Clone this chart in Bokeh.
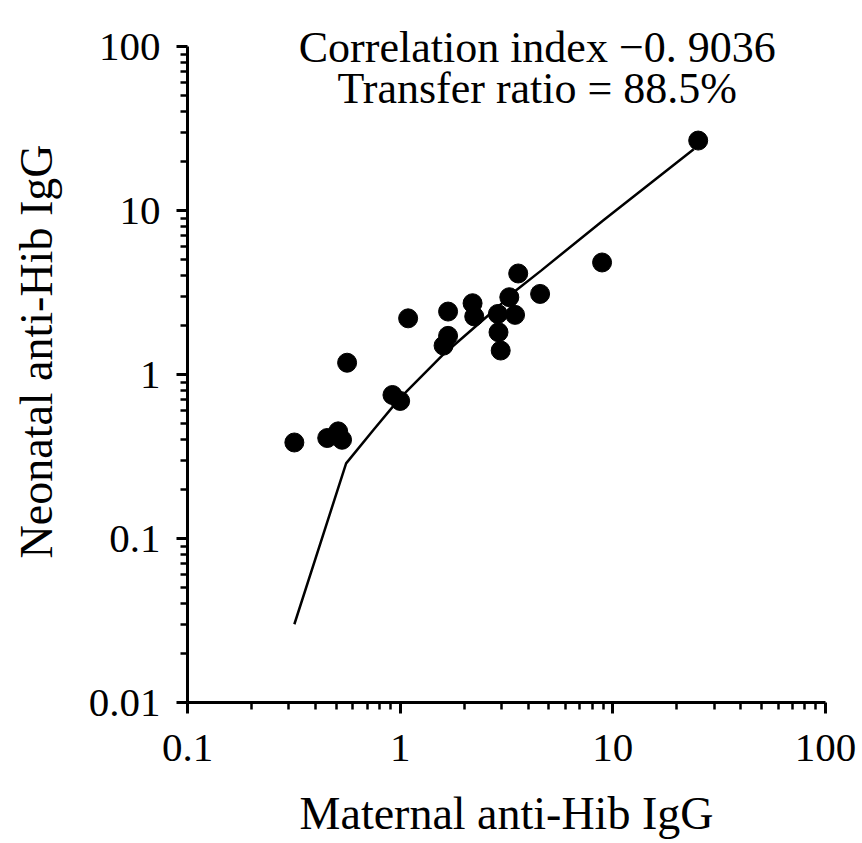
from bokeh.plotting import figure
from bokeh.models import FixedTicker, CustomJSTickFormatter, ColumnDataSource, Range1d
from bokeh.core.properties import value
from bokeh.embed import file_html
from bokeh.resources import INLINE

# Data
maternal = [0.318, 0.454, 0.511, 0.533, 0.563, 0.92, 1.0, 1.09, 1.6, 1.68, 1.68,
            2.19, 2.23, 2.88, 2.9, 2.97, 3.26, 3.47, 3.59, 4.55, 8.9, 25.2]
neonatal = [0.385, 0.41, 0.45, 0.40, 1.18, 0.75, 0.69, 2.2, 1.5, 1.72, 2.42,
            2.72, 2.26, 2.34, 1.81, 1.4, 2.96, 2.31, 4.13, 3.1, 4.82, 26.7]

fit_x = [0.318, 0.557, 0.75, 1.0, 1.6, 2.9, 3.5, 4.6, 9.0, 24.0]
fit_y = [0.030, 0.287, 0.46, 0.72, 1.33, 2.6, 3.25, 4.3, 8.7, 23.6]

x_ticks = [0.1, 1, 10, 100]
y_ticks = [0.01, 0.1, 1, 10, 100]
x_minor = [m * d for d in (0.1, 1, 10) for m in range(2, 10)]
y_minor = [m * d for d in (0.01, 0.1, 1, 10) for m in range(2, 10)]

annotation_lines = ["Correlation index \u22120. 9036", "Transfer ratio = 88.5%"]

FONT = "Liberation Serif"

p = figure(width=862, height=843, x_axis_type="log", y_axis_type="log",
           x_range=Range1d(0.1, 100), y_range=Range1d(0.01, 10 ** (2 + 46 / 164)),
           output_backend="svg", toolbar_location=None,
           min_border_left=187, min_border_right=37,
           min_border_top=0, min_border_bottom=141)

p.outline_line_color = None
p.grid.visible = False
p.background_fill_color = "white"
p.border_fill_color = "white"

fmt = CustomJSTickFormatter(code="return tick.toString();")
p.xaxis.ticker = FixedTicker(ticks=x_ticks, minor_ticks=x_minor)
p.yaxis.ticker = FixedTicker(ticks=y_ticks, minor_ticks=y_minor)
p.yaxis.bounds = (0.01, 100)
for ax in (p.xaxis, p.yaxis):
    ax.formatter = fmt
    ax.axis_line_width = 3
    ax.axis_line_color = "black"
    ax.major_tick_line_width = 3
    ax.minor_tick_line_width = 2.5
    ax.major_tick_out = 11
    ax.major_tick_in = 0
    ax.minor_tick_out = 7
    ax.minor_tick_in = 0
    ax.major_label_text_font = FONT
    ax.major_label_text_font_size = "41px"
    ax.major_label_text_color = "black"
    ax.axis_label_text_font = FONT
    ax.axis_label_text_font_size = "46px"
    ax.axis_label_text_font_style = "normal"
    ax.axis_label_text_color = "black"

p.xaxis.axis_label = "Maternal anti-Hib IgG"
p.yaxis.axis_label = "Neonatal anti-Hib IgG"
p.xaxis.major_label_standoff = 21
p.yaxis.major_label_standoff = 16
p.xaxis.axis_label_standoff = 24
p.yaxis.axis_label_standoff = 24

src = ColumnDataSource(dict(x=maternal, y=neonatal))
p.line(fit_x, fit_y, line_color="black", line_width=2.5)
p.scatter("x", "y", source=src, size=19, fill_color="black", line_color="black")

ann = ColumnDataSource(dict(x=[4.41, 4.41], y=[98.6, 55.4], t=annotation_lines))
p.text("x", "y", text="t", source=ann, text_align="center", text_baseline="alphabetic",
       text_font=value(FONT), text_font_size="44px", text_color="black")

open("out.html", "w").write(file_html(p, INLINE))
